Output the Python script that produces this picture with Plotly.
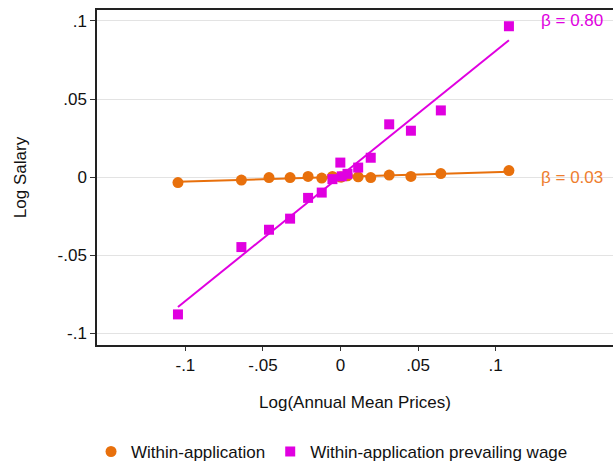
import numpy as np
import plotly.graph_objects as go

# binned scatter (x = log annual mean prices, y = log salary)
bin_x = [-0.1048, -0.0639, -0.0461, -0.0325, -0.0209, -0.0121, -0.0052, -0.0001,
         0.0008, 0.0045, 0.0114, 0.0195, 0.0314, 0.0454, 0.0647, 0.1086]
within_app = [-0.0035, -0.0019, -0.0003, -0.0003, 0.0004, -0.0006, 0.0004, 0.0000,
              0.0001, 0.0008, 0.0002, -0.0003, 0.0013, 0.0004, 0.0023, 0.0042]
prevailing_wage = [-0.0879, -0.0448, -0.0337, -0.0266, -0.0133, -0.0099, -0.0013, 0.0093,
                   0.0005, 0.0021, 0.0061, 0.0124, 0.0338, 0.0297, 0.0427, 0.0966]

# fitted lines
beta_within = 0.03
icpt_within = 0.0001
beta_prev = 0.80
icpt_prev = 0.0007

x_ticks = [-0.1, -0.05, 0, 0.05, 0.1]
x_ticktext = ["-.1", "-.05", "0", ".05", ".1"]
y_ticks = [-0.1, -0.05, 0, 0.05, 0.1]
y_ticktext = ["-.1", "-.05", "0", ".05", ".1"]

ORANGE = "#E8700C"
MAGENTA = "#E000E0"
FONT = "Liberation Sans, Arial, sans-serif"
FS = 17

x_fit = np.array([min(bin_x), max(bin_x)])

fig = go.Figure()
fig.add_trace(go.Scatter(
    x=x_fit, y=icpt_within + beta_within * x_fit, mode="lines",
    line=dict(color=ORANGE, width=2), showlegend=False, hoverinfo="skip"))
fig.add_trace(go.Scatter(
    x=x_fit, y=icpt_prev + beta_prev * x_fit, mode="lines",
    line=dict(color=MAGENTA, width=2), showlegend=False, hoverinfo="skip"))
fig.add_trace(go.Scatter(
    x=bin_x, y=within_app, mode="markers", name="Within-application",
    marker=dict(symbol="circle", size=11, color=ORANGE)))
fig.add_trace(go.Scatter(
    x=bin_x, y=prevailing_wage, mode="markers",
    name="Within-application prevailing wage",
    marker=dict(symbol="square", size=10, color=MAGENTA)))

# slope labels at the right edge
fig.add_annotation(x=1.0, xref="paper", xanchor="right", xshift=-8,
                   y=0.1, yref="y", yanchor="middle",
                   text=f"β = {beta_prev:.2f}", showarrow=False,
                   font=dict(color=MAGENTA, size=FS, family=FONT))
fig.add_annotation(x=1.0, xref="paper", xanchor="right", xshift=-8,
                   y=0.0, yref="y", yanchor="middle",
                   text=f"β = {beta_within:.2f}", showarrow=False,
                   font=dict(color="#EE7D2E", size=FS, family=FONT))

fig.update_xaxes(
    range=[-0.157, 0.1757],
    tickvals=x_ticks, ticktext=x_ticktext,
    showgrid=False, zeroline=False,
    showline=True, linewidth=1.5, linecolor="#222222", mirror=True,
    ticks="outside", ticklen=4, tickcolor="#333333",
    tickfont=dict(size=FS, color="#111111"),
    title=dict(text="Log(Annual Mean Prices)", standoff=22,
               font=dict(size=FS, color="#111111")),
)
fig.update_yaxes(
    range=[-0.1075, 0.107],
    tickvals=y_ticks, ticktext=y_ticktext,
    showgrid=True, gridcolor="#E3E3E3", gridwidth=1.2, zeroline=False,
    showline=True, linewidth=1.5, linecolor="#222222", mirror=False,
    ticks="outside", ticklen=5, tickcolor="#333333",
    tickfont=dict(size=FS, color="#111111"),
    title=dict(text="Log Salary", standoff=27,
               font=dict(size=FS, color="#111111")),
)

# legend placed in container coords so it does not push the plot margins
fig.update_layout(
    width=613, height=464,
    margin=dict(l=97, r=0, t=10, b=119),
    plot_bgcolor="white", paper_bgcolor="white",
    font=dict(family=FONT, color="#111111"),
    legend=dict(orientation="h", xref="container", x=0.1485, xanchor="left",
                yref="container", y=0.026, yanchor="middle",
                font=dict(size=FS), itemwidth=30, traceorder="normal"),
)

# drop the default page margin so the figure fills the window exactly
fig.write_html("out.html",
               config={"displayModeBar": False},
               post_script="document.body.style.margin='0';"
                           "document.body.style.overflow='hidden';")
